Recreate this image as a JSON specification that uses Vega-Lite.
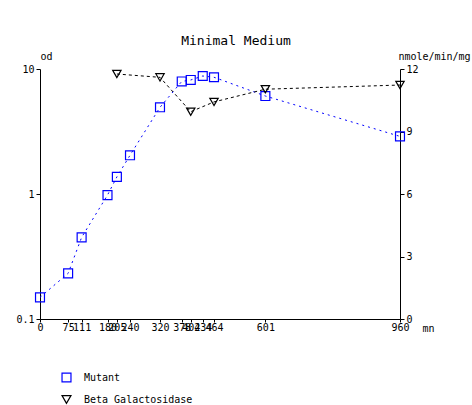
{
  "$schema": "https://vega.github.io/schema/vega-lite/v6.json",
  "autosize": "none",
  "width": 360,
  "height": 250,
  "padding": {"left": 40, "top": 69, "right": 72, "bottom": 86},
  "background": "white",
  "config": {
    "font": "DejaVu Sans Mono",
    "view": {"stroke": null},
    "axis": {"labelFont": "DejaVu Sans Mono", "titleFont": "DejaVu Sans Mono", "labelFontSize": 10, "titleFontSize": 10, "titleFontWeight": "normal", "domainColor": "black", "tickColor": "black", "labelColor": "black", "titleColor": "black", "grid": false, "tickSize": 4}
  },
  "title": {"text": "Minimal Medium", "font": "DejaVu Sans Mono", "fontSize": 13, "fontWeight": "normal", "anchor": "middle", "dx": 16, "offset": 3, "color": "black"},
  "datasets": {
    "mutant": [
      {"t": 0, "od": 0.149, "series": "Mutant"},
      {"t": 75, "od": 0.232, "series": "Mutant"},
      {"t": 111, "od": 0.45, "series": "Mutant"},
      {"t": 180, "od": 0.98, "series": "Mutant"},
      {"t": 205, "od": 1.37, "series": "Mutant"},
      {"t": 240, "od": 2.04, "series": "Mutant"},
      {"t": 320, "od": 4.94, "series": "Mutant"},
      {"t": 378, "od": 7.95, "series": "Mutant"},
      {"t": 402, "od": 8.17, "series": "Mutant"},
      {"t": 434, "od": 8.79, "series": "Mutant"},
      {"t": 464, "od": 8.59, "series": "Mutant"},
      {"t": 601, "od": 6.08, "series": "Mutant"},
      {"t": 960, "od": 2.89, "series": "Mutant"}
    ],
    "beta": [
      {"t": 205, "v": 11.76, "series": "Beta Galactosidase"},
      {"t": 320, "v": 11.6, "series": "Beta Galactosidase"},
      {"t": 402, "v": 9.95, "series": "Beta Galactosidase"},
      {"t": 464, "v": 10.42, "series": "Beta Galactosidase"},
      {"t": 601, "v": 11.03, "series": "Beta Galactosidase"},
      {"t": 960, "v": 11.23, "series": "Beta Galactosidase"}
    ]
  },
  "encoding": {
    "x": {"field": "t", "type": "quantitative", "scale": {"domain": [0, 960], "nice": false, "zero": false},
      "axis": {"values": [0, 75, 111, 180, 205, 240, 320, 378, 402, 434, 464, 601, 960], "title": "mn", "titleAngle": 0, "titleAnchor": "end", "titleAlign": "left", "titleX": 382, "titleY": 4, "titleBaseline": "top", "labelPadding": 0, "labelFlush": false, "labelOverlap": false, "labelBaseline": "top", "tickSize": 3}}
  },
  "layer": [
    {
      "data": {"name": "mutant"},
      "encoding": {
        "y": {"field": "od", "type": "quantitative", "scale": {"type": "log", "domain": [0.1, 10], "nice": false},
          "axis": {"orient": "left", "values": [0.1, 1, 10], "format": "~g", "title": "od", "titleAngle": 0, "titleX": 0, "titleY": -8, "titleAlign": "left", "titleBaseline": "bottom", "labelPadding": 2}}
      },
      "layer": [
        {"mark": {"type": "line", "strokeDash": [2, 4], "strokeWidth": 1, "color": "#0000ff"}, "encoding": {}},
        {"mark": {"type": "point", "filled": false, "size": 80, "strokeWidth": 1.2, "opacity": 1},
          "encoding": {
            "color": {"field": "series", "type": "nominal", "scale": {"domain": ["Mutant", "Beta Galactosidase"], "range": ["#0000ff", "#000000"]},
              "legend": {"title": null, "orient": "none", "legendX": 21, "legendY": 303, "direction": "vertical", "labelFont": "DejaVu Sans Mono", "labelFontSize": 10, "rowPadding": 8, "symbolSize": 80, "symbolStrokeWidth": 1.2, "labelOffset": 12,
                "encode": {"symbols": {"update": {"fill": {"value": "transparent"}}}, "labels": {"update": {"fill": {"signal": "datum.label == 'Mutant' ? '#0000ff' : '#000000'"}}}}}},
            "shape": {"field": "series", "type": "nominal", "scale": {"domain": ["Mutant", "Beta Galactosidase"], "range": ["square", "triangle-down"]}}
          }}
      ]
    },
    {
      "data": {"name": "beta"},
      "encoding": {
        "y": {"field": "v", "type": "quantitative", "scale": {"domain": [0, 12], "nice": false},
          "axis": {"orient": "right", "values": [0, 3, 6, 9, 12], "title": "nmole/min/mg", "titleAngle": 0, "titleX": 34, "titleY": -8, "titleAlign": "center", "titleBaseline": "bottom", "labelPadding": 2}}
      },
      "layer": [
        {"mark": {"type": "line", "strokeDash": [3, 3], "strokeWidth": 1, "color": "black"}, "encoding": {}},
        {"mark": {"type": "point", "filled": false, "size": 70, "strokeWidth": 1.2, "opacity": 1},
          "encoding": {
            "color": {"field": "series", "type": "nominal", "legend": null},
            "shape": {"field": "series", "type": "nominal", "legend": null}
          }}
      ]
    }
  ],
  "resolve": {"scale": {"y": "independent"}}
}
